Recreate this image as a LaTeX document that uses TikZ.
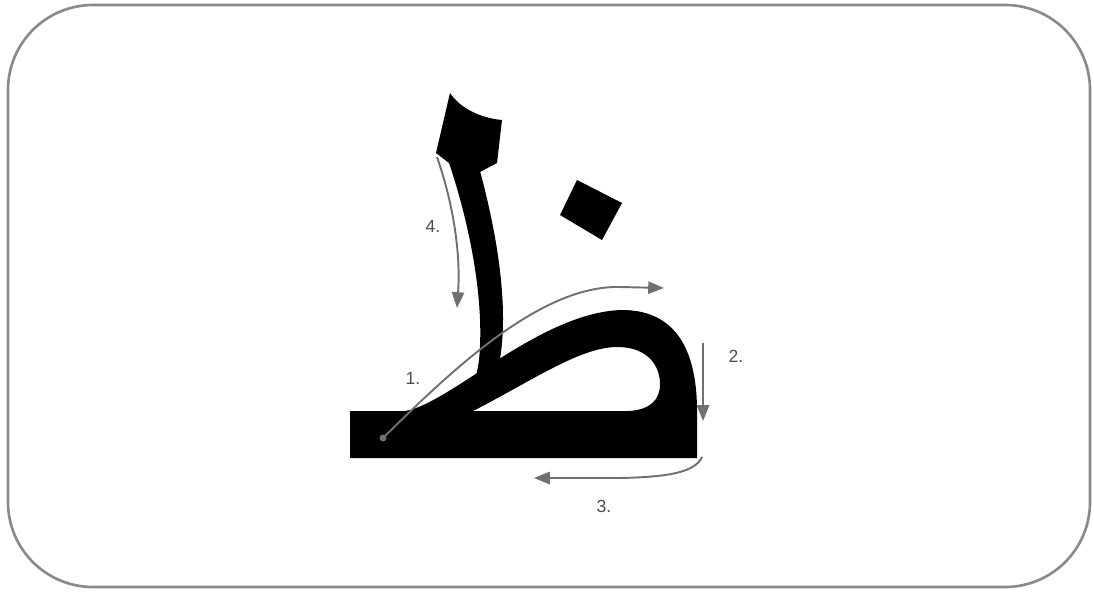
\documentclass[tikz,border=0pt]{standalone}
\usepackage{fontspec}
\setmainfont{Liberation Sans}
\usepackage{tikz}
\usetikzlibrary{arrows.meta, positioning}
\usepackage{xcolor}
\definecolor{grisTrazo}{HTML}{707070}
\definecolor{grisMarco}{HTML}{8A8A8A}

\begin{document}
\begin{tikzpicture}[
        x=0.02cm, y=-0.02cm,
        marco/.style={draw=grisMarco, line width=1.5pt, rounded corners=1.7cm},
        letra/.style={fill=black, draw=none},
        flecha/.style={-{Triangle[length=9pt, width=7pt]}, grisTrazo, line width=1.1pt},
        paso/.style={font=\fontsize{10}{12}\selectfont, text=black!70, inner sep=1pt}
    ]
        \useasboundingbox (0,0) rectangle (1094,591);

        % ================= MARCO =================
        \draw[marco] (8,5) rectangle (1090,587);

        % ================= LETRA =================

        % Base y lazo (con hueco)
        \fill[letra, even odd rule]
            (350,411) -- (405,411)
            .. controls (450,404) and (540,312) .. (622,310)
            .. controls (682,310) and (697,360) .. (697,411)
            -- (697,458) -- (350,458) -- cycle
            (473,411) .. controls (530,382) and (580,347) .. (617,347)
            .. controls (650,347) and (660,368) .. (660,384)
            .. controls (660,400) and (650,410) .. (628,411) -- cycle;

        % Trazo vertical
        \fill[letra] (436,153) -- (449,163)
            .. controls (469,222) and (485,300) .. (479,360)
            .. controls (476,385) and (466,400) .. (452,411)
            -- (484,404) .. controls (508,368) and (512,290) .. (480,171) -- cycle;

        % Cabeza
        \fill[letra] (450,93) .. controls (460,108) and (480,118) .. (502,120)
            -- (497,163) -- (480,172) -- (436,153) -- cycle;

        % Punto
        \fill[letra] (560,215) -- (577,180) -- (622,203) -- (602,240) -- cycle;

        % ================= FLECHAS =================
        \coordinate (i1) at (383,438);
        \coordinate (f1) at (664,288);
        \coordinate (i2) at (703,343);
        \coordinate (f2) at (703,421);
        \coordinate (i3) at (702,457);
        \coordinate (f3) at (534,478);
        \coordinate (i4) at (437,157);
        \coordinate (f4) at (457,308);

        \fill[grisTrazo] (i1) circle (3.5);
        \draw[flecha] (i1) .. controls (450,372) and (540,285) .. (620,287) -- (f1);
        \draw[flecha] (i2) -- (f2);
        \draw[flecha] (i3) .. controls (695,472) and (670,477) .. (620,478) -- (f3);
        \draw[flecha] (i4) .. controls (452,200) and (461,250) .. (f4);

        % ================= NUMEROS =================
        \node[paso] (n1) at (413,378) {1.};
        \node[paso] (n2) at (736,356) {2.};
        \node[paso] (n3) at (604,506) {3.};
        \node[paso] (n4) at (433,226) {4.};

    \end{tikzpicture}
\end{document}
